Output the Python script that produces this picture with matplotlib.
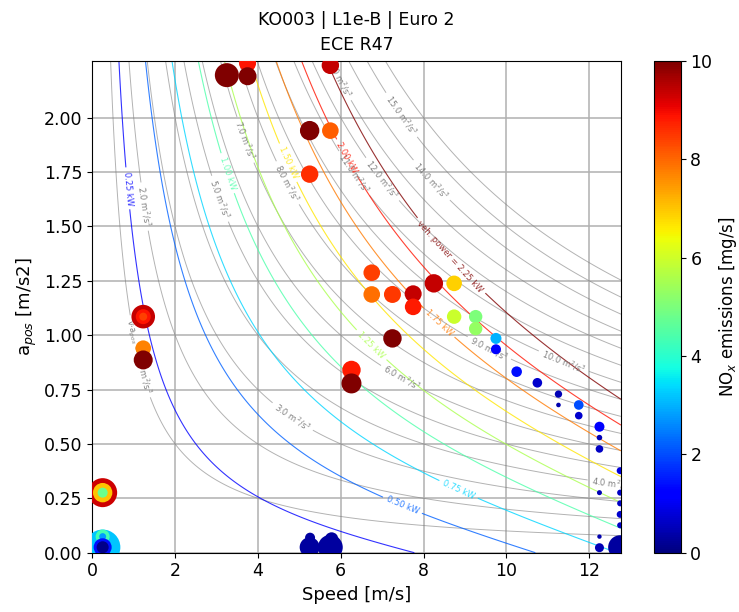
import numpy as np
import matplotlib
matplotlib.use("Agg")
import matplotlib.pyplot as plt
from matplotlib.colors import Normalize

# ---------------- data ----------------
speed = [3.25, 3.75, 3.75, 5.75, 5.25, 5.75, 5.25,
         1.23, 1.23, 1.23, 1.23, 1.23,
         6.26, 6.26, 7.25, 6.75, 6.75, 7.25, 7.75, 7.75, 8.25, 8.74, 8.74, 9.26, 9.26,
         9.75, 9.75, 10.25, 10.75, 11.26, 11.26, 11.75, 11.75,
         12.25, 12.25, 12.25, 12.25, 12.25, 12.25,
         12.75, 12.75, 12.75, 12.75, 12.75, 12.75,
         0.25, 0.25, 0.25, 0.25, 0.25, 0.25, 0.25, 0.25,
         5.25, 5.75, 5.26, 5.78]
accel = [2.195, 2.25, 2.19, 2.24, 1.94, 1.94, 1.74,
         1.085, 1.085, 1.085, 0.94, 0.886,
         0.84, 0.778, 0.985, 1.287, 1.187, 1.187, 1.19, 1.13, 1.238, 1.238, 1.085, 1.085, 1.03,
         0.985, 0.935, 0.832, 0.781, 0.729, 0.679, 0.679, 0.63,
         0.579, 0.529, 0.477, 0.276, 0.074, 0.023,
         0.377, 0.276, 0.227, 0.176, 0.126, 0.025,
         0.276, 0.276, 0.276, 0.025, 0.074, 0.074, 0.025, 0.025,
         0.025, 0.025, 0.069, 0.063]
nox = [10.0, 8.9, 10.0, 9.4, 10.0, 8.1, 8.6,
       9.4, 8.9, 8.4, 7.7, 10.0,
       8.8, 10.0, 10.0, 8.4, 7.9, 8.5, 9.4, 8.8, 9.4, 6.9, 5.95, 5.0, 5.3,
       3.0, 1.2, 1.4, 0.7, 0.5, 0.4, 2.0, 0.7,
       1.1, 0.5, 0.6, 0.5, 0.4, 0.5,
       0.8, 0.6, 0.6, 0.7, 0.6, 0.3,
       9.3, 7.0, 4.8, 3.2, 4.3, 2.8, 1.4, 0.1,
       0.3, 0.3, 0.3, 0.3]
marker_area = [299, 150, 168, 157, 195, 143, 157,
               289, 117, 33, 126, 187,
               176, 207, 176, 143, 143, 150, 150, 143, 176, 126, 108, 93, 93,
               63, 52, 58, 48, 28, 11, 48, 30,
               52, 16, 30, 13, 10, 42,
               25, 19, 19, 25, 19, 299,
               436, 195, 52, 650, 102, 25, 168, 75,
               207, 319, 52, 93]

va_levels = [1.0, 2.0, 3.0, 4.0, 5.0, 6.0, 7.0, 8.0, 9.0, 10.0, 11.0, 12.0, 13.0, 14.0, 15.0, 16.0]
power_levels_kw = [0.25, 0.50, 0.75, 1.00, 1.25, 1.50, 1.75, 2.00, 2.25]

# vehicle road-load parameters used for the power iso-lines
veh_mass = 165.0
f0_newton = 15.8
f2_newton = 0.27

title = "KO003 | L1e-B | Euro 2\nECE R47"

# ---------------- figure ----------------
fig = plt.figure(figsize=(7.39, 6.12), dpi=100)
ax = fig.add_axes([0.1249, 0.0969, 0.7154, 0.8034])
cax = fig.add_axes([0.8850, 0.0969, 0.0360, 0.8034])

xmax, ymax = 12.77, 2.26
vg = np.linspace(0.001, xmax, 500)
ag = np.linspace(0.0, ymax, 500)
V, A = np.meshgrid(vg, ag)
VA = V * A
P = V * (veh_mass * A + f0_newton + f2_newton * V ** 2) / 1000.0

ax.grid(True, color="#b0b0b0", lw=1.1, zorder=0)
ax.set_axisbelow(True)

cs1 = ax.contour(V, A, VA, levels=va_levels, colors="gray", linewidths=0.7, alpha=0.6, zorder=1)
fmt1 = {lv: f"{lv:.1f} m$^2$/s$^3$" for lv in va_levels}
fmt1[va_levels[0]] = f"v$\\cdot$a$_{{pos}}$ = {va_levels[0]:.1f} m$^2$/s$^3$"
pos1 = [(1.1, 0.9), (1.23, 1.59), (4.82, 0.62), (12.55, 0.32), (3.13, 1.63), (7.5, 0.81),
        (3.73, 1.9), (4.72, 1.7), (9.6, 0.945), (11.4, 0.885), (6.3, 1.74), (7.03, 1.72),
        (5.95, 2.19), (8.24, 1.72), (7.6, 2.03)]
lab1 = ax.clabel(cs1, fmt=fmt1, fontsize=6, manual=pos1, inline=True, inline_spacing=4)
for t in lab1:
    t.set_color("#808080")

cmap_p = plt.get_cmap("jet")
norm_p = Normalize(vmin=0, vmax=max(power_levels_kw))
cs2 = ax.contour(V, A, P, levels=power_levels_kw, cmap=cmap_p, norm=norm_p,
                 linewidths=0.8, alpha=0.8, zorder=2)
fmt2 = {lv: f"{lv:.2f} kW" for lv in power_levels_kw}
fmt2[power_levels_kw[-1]] = f"veh. power = {power_levels_kw[-1]:.2f} kW"
pos2 = [(0.87, 1.675), (7.51, 0.227), (8.84, 0.288), (3.2, 1.74), (6.7, 0.947),
        (4.7, 1.79), (8.36, 1.054), (6.1, 1.81), (8.64, 1.36)]
ax.clabel(cs2, fmt=fmt2, fontsize=6, manual=pos2, inline=True, inline_spacing=4)

sc = ax.scatter(speed, accel, c=nox, s=marker_area, cmap="jet", vmin=0, vmax=10,
                linewidths=0, zorder=5)

ax.set_xlim(0, xmax)
ax.set_ylim(0, ymax)
ax.set_xticks([0, 2, 4, 6, 8, 10, 12])
ax.set_yticks(np.arange(0, 2.01, 0.25))
ax.set_yticklabels([f"{t:.2f}" for t in np.arange(0, 2.01, 0.25)])
ax.tick_params(labelsize=12.5)
ax.set_xlabel("Speed [m/s]", fontsize=13)
ax.set_ylabel("a$_{pos}$ [m/s2]", fontsize=13)
ax.set_title(title, fontsize=12.5, linespacing=1.5, pad=8)

cb = fig.colorbar(sc, cax=cax)
cb.set_label("NO$_x$ emissions [mg/s]", fontsize=12, labelpad=3)
cb.ax.tick_params(labelsize=12.5)

fig.savefig("out.png", dpi=100)
